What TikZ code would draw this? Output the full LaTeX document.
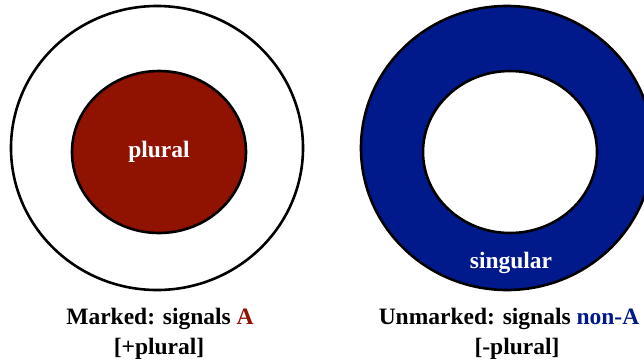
\documentclass[tikz,border=0pt]{standalone}
\usepackage{fontspec}
\setmainfont{Liberation Serif}
\definecolor{markred}{RGB}{144,18,0}
\definecolor{markblue}{RGB}{0,26,140}
\begin{document}
\begin{tikzpicture}[x=1pt,y=-1pt,
  ring/.style={line width=2.6pt,draw=black},
  lbl/.style={font=\fontsize{23.5}{28}\selectfont\bfseries,inner sep=0pt,anchor=base},
  inlbl/.style={lbl,text=white}]
\useasboundingbox (0,0) rectangle (644,362);
\clip (0,0) rectangle (644,362);
\fill[white] (0,0) rectangle (644,362);
% left
\draw[ring,fill=white] (157,148) ellipse [x radius=146pt, y radius=142pt];
\draw[ring,fill=markred] (159,152) ellipse [x radius=87pt, y radius=81pt];
\node[inlbl] (pl) at (159,157) {plural};
% right
\draw[ring,fill=markblue] (507,148) ellipse [x radius=146pt, y radius=142pt];
\draw[ring,fill=white] (510,152) ellipse [x radius=87pt, y radius=81pt];
\node[inlbl] (sg) at (511,268) {singular};
% captions
\node[lbl] (m1) at (160,324) {Marked: signals \textcolor{markred}{A}};
\node[lbl] (m2) at (159,354) {[+plural]};
\node[lbl] (u1) at (509,324) {Unmarked: signals \textcolor{markblue}{non-A}};
\node[lbl] (u2) at (517,354) {[-plural]};
\end{tikzpicture}
\end{document}
